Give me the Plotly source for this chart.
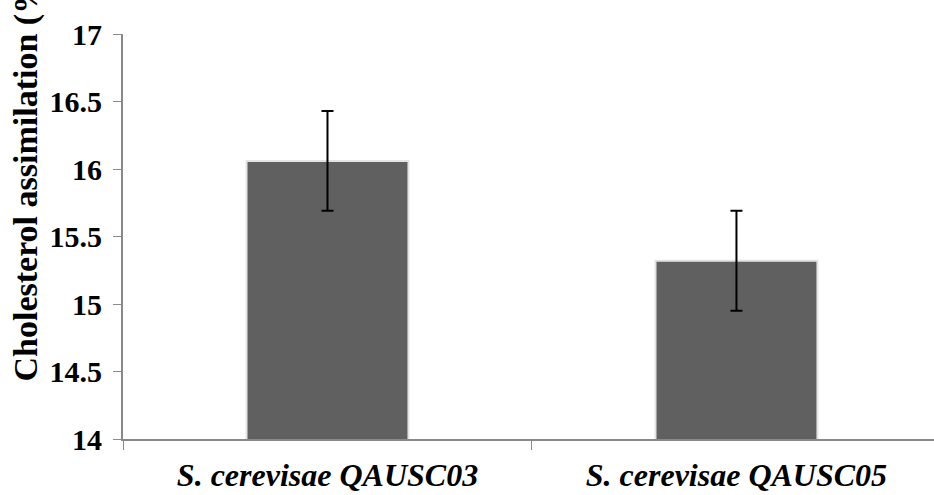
import plotly.graph_objects as go

categories = ["S. cerevisae QAUSC03", "S. cerevisae QAUSC05"]
values = [16.06, 15.32]
errors = [0.37, 0.37]
y_ticks = [14, 14.5, 15, 15.5, 16, 16.5, 17]
y_ticktext = ["14", "14.5", "15", "15.5", "16", "16.5", "17"]

SERIF = "Liberation Serif, Times New Roman, serif"

fig = go.Figure()
fig.add_trace(go.Bar(
    x=categories, y=values,
    width=0.396,
    marker=dict(color="#606060", line=dict(color="#e4e4e4", width=2)),
    error_y=dict(type="data", array=errors, visible=True, color="black", thickness=2, width=6),
))

fig.update_layout(
    width=934, height=495,
    margin=dict(l=123, r=0, t=34, b=56, autoexpand=False),
    plot_bgcolor="white", paper_bgcolor="white",
    showlegend=False,
    font=dict(family=SERIF, color="black"),
)
fig.update_xaxes(
    range=[-0.5, 1.483], automargin=False,
    showline=True, linecolor="#898989", linewidth=2,
    ticks="outside", tickson="boundaries", ticklen=9, tickcolor="#898989", tickwidth=1,
    tickfont=dict(family=SERIF, size=32, weight="bold", style="italic", color="black"),
    ticklabelstandoff=7,
    showgrid=False, zeroline=False,
)
fig.update_yaxes(
    range=[14, 17], automargin=False,
    tickvals=y_ticks, ticktext=y_ticktext,
    showline=True, linecolor="#898989", linewidth=2,
    ticks="outside", ticklen=8, tickcolor="#898989", tickwidth=1,
    tickfont=dict(family=SERIF, size=30, weight="bold", color="black"),
    ticklabelstandoff=5,
    showgrid=False, zeroline=False,
)
fig.add_annotation(
    text="Cholesterol assimilation (%)",
    xref="paper", yref="paper", x=0, y=(439 - 384) / 405,
    xanchor="center", yanchor="bottom", xshift=-98,
    textangle=-90, showarrow=False,
    font=dict(family=SERIF, size=34, weight="bold", color="black"),
)
fig.write_html(
    "out.html",
    config={"displayModeBar": False},
    post_script="document.body.style.margin='0';document.body.style.overflow='hidden';",
)
